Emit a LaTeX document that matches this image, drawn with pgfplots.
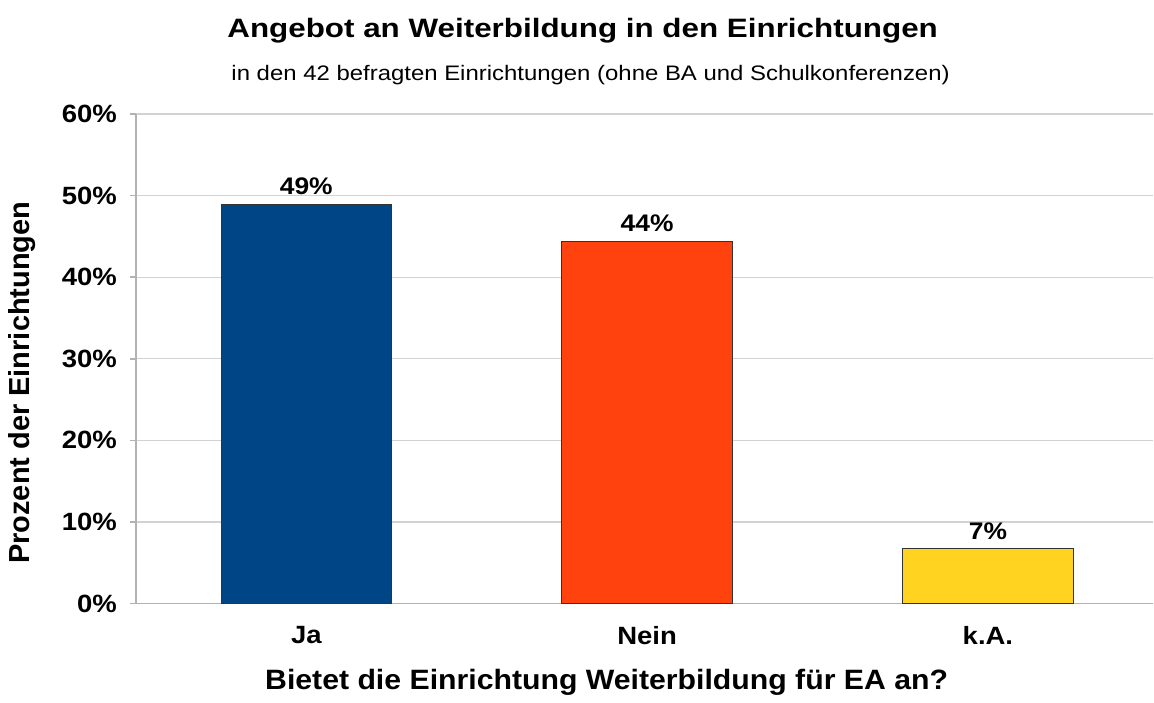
\documentclass[border=0pt]{standalone}
\usepackage{pgfplots}
\pgfplotsset{compat=1.18}
\usepackage{fontspec}
\setmainfont{Liberation Sans}
\newfontfamily\fTick[FakeStretch=1.1]{Liberation Sans}
\newfontfamily\fTitle[FakeStretch=1.18]{Liberation Sans}
\newfontfamily\fSub[FakeStretch=1.14]{Liberation Sans}
\newfontfamily\fXlab[FakeStretch=1.08]{Liberation Sans}
\definecolor{cJa}{HTML}{004586}
\definecolor{cNein}{HTML}{FF420E}
\definecolor{cKA}{HTML}{FFD320}

\begin{document}
\begin{tikzpicture}
\begin{axis}[
  scale only axis, width=509pt, height=245pt,
  xmin=-0.5, xmax=2.485, ymin=0, ymax=60,
  axis x line*=bottom, axis y line*=left,
  axis line style={gray!60, line width=0.8pt},
  ytick={0,10,...,60},
  yticklabel={\pgfmathprintnumber{\tick}\%},
  ymajorgrids, grid style={gray!35, line width=0.6pt},
  xtick={0,1,2}, xticklabels={Ja,Nein,k.A.},
  major x tick style={draw=none},
  extra x ticks={-0.5,0.5,1.5}, extra x tick labels={},
  extra x tick style={major tick length=5pt, tick align=outside,
    tick style={gray!60, line width=0.8pt}, grid=none},
  major y tick style={gray!60, line width=0.8pt},
  tick align=outside, major tick length=3pt,
  yticklabel style={font=\fTick\fontsize{12.5}{14}\selectfont\bfseries, xshift=-3pt},
  xticklabel style={font=\fTick\fontsize{12.5}{14}\selectfont\bfseries, yshift=-5pt},
  /pgf/number format/assume math mode=true,
  ybar, bar width=0.5,
  nodes near coords, point meta=explicit symbolic,
  every node near coord/.append style={font=\fTick\fontsize{12}{14}\selectfont\bfseries, inner sep=1.5pt, yshift=3pt},
]
\addplot[fill=cJa, draw=black!80, line width=0.5pt, bar shift=0pt] coordinates {(0,48.9) [49\%]};
\addplot[fill=cNein, draw=black!80, line width=0.5pt, bar shift=0pt] coordinates {(1,44.4) [44\%]};
\addplot[fill=cKA, draw=black!80, line width=0.5pt, bar shift=0pt] coordinates {(2,6.7) [7\%]};
\end{axis}
\node[font=\fTitle\fontsize{13.3}{15}\selectfont\bfseries] at ([xshift=223.5pt,yshift=286.5pt]current axis.south west) {Angebot an Weiterbildung in den Einrichtungen};
\node[font=\fSub\fontsize{10.5}{12}\selectfont] at ([xshift=227.5pt,yshift=264.5pt]current axis.south west) {in den 42 befragten Einrichtungen (ohne BA und Schulkonferenzen)};
\node[font=\fXlab\fontsize{14}{16}\selectfont\bfseries] at ([xshift=235.5pt,yshift=-39.5pt]current axis.south west) {Bietet die Einrichtung Weiterbildung für EA an?};
\node[font=\fontsize{14.5}{16}\selectfont\bfseries, rotate=90] at ([xshift=-57pt,yshift=110.5pt]current axis.south west) {Prozent der Einrichtungen};
\useasboundingbox ([xshift=-68pt,yshift=-48pt]current axis.south west) rectangle ([yshift=57pt]current axis.north east);
\end{tikzpicture}
\end{document}
